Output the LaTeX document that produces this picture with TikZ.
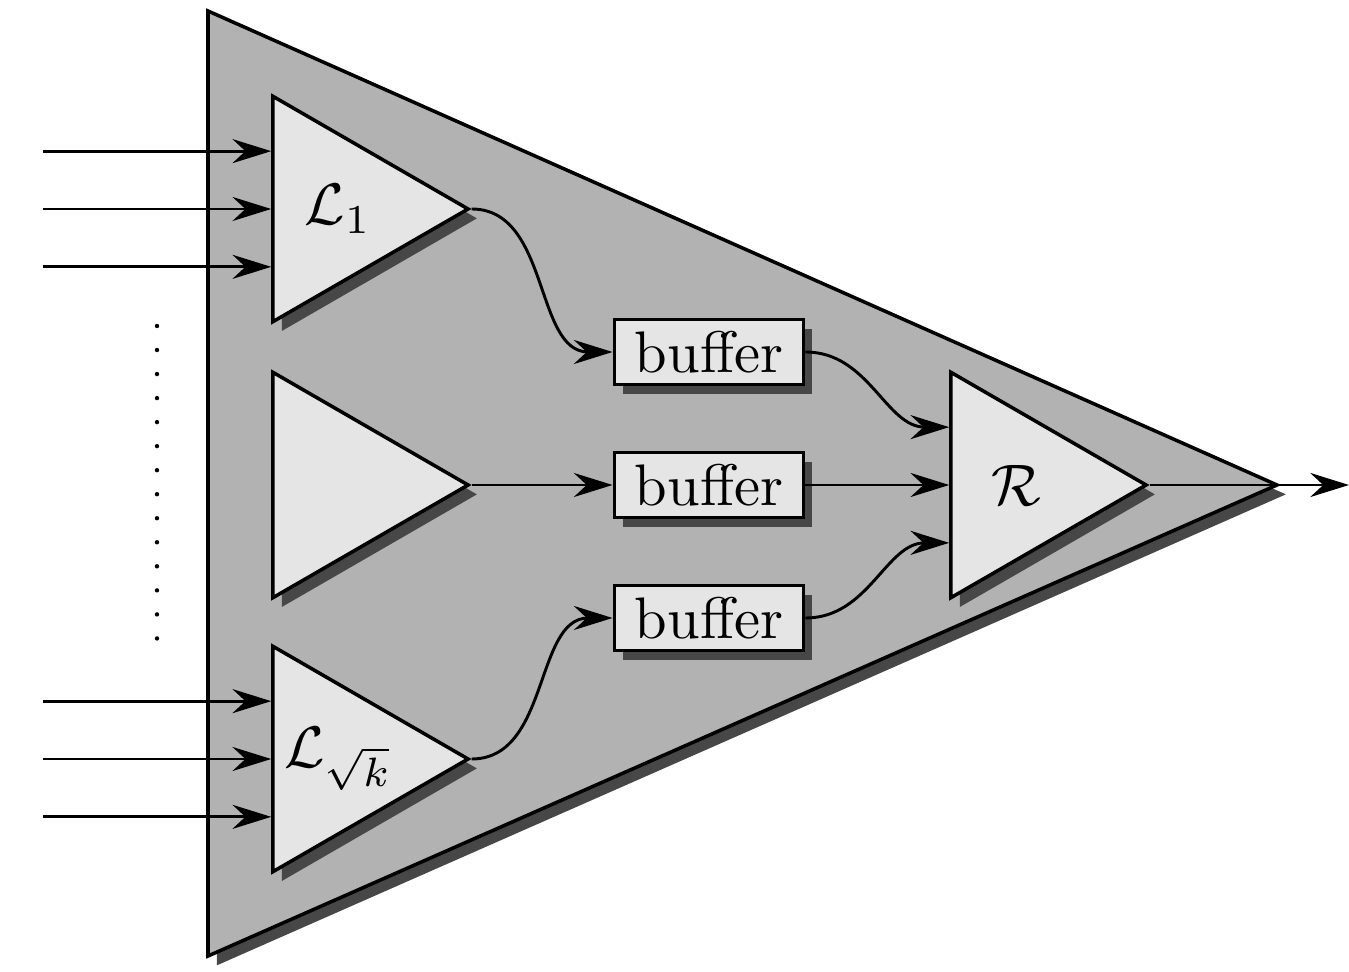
\documentclass[tikz,border=0pt]{standalone}
\usepackage{amsmath}
\usepackage{amssymb}
\usepackage{xcolor}
\usepackage{tikz}
\usetikzlibrary{arrows.meta,shapes.geometric,shadows,calc}

\begin{document}
\begin{tikzpicture}[x=0.006cm,y=-0.006cm,>={Stealth[length=6.6pt,width=4.1pt,inset=2.2pt]},line width=0.5pt]
    \tikzstyle{shade}=[drop shadow={opacity=1,fill=black!72,shadow xshift=1.5pt,shadow yshift=-1.6pt}]
    \tikzstyle{amp}=[regular polygon,regular polygon sides=3,shape border rotate=-90,minimum size=1.56cm,inner sep=0pt,draw,fill=black!10,line width=0.6pt,shade]
    \tikzstyle{buf}=[rectangle,draw,fill=black!10,line width=0.65pt,minimum width=1.134cm,minimum height=0.39cm,inner sep=0pt,shade]
    \tikzstyle{wire}=[->]
    \tikzstyle{dotrow}=[line width=0.75pt,line cap=round,dash pattern=on 0pt off 4.1pt]

    \useasboundingbox (0,0) rectangle (1349,972);

    % outer triangle
    \coordinate (top) at (208,11);
    \coordinate (bot) at (208,956);
    \coordinate (tip) at (1277,485);
    \draw[line width=0.6pt,fill=black!30,shade] (top) -- (bot) -- (tip) -- cycle;

    \node[amp] (L1) at (338,209) {$\mathcal{L}_1$};
    \node[amp] (M)  at (338,485) {};
    \node[amp] (Lk) at (338,759) {\makebox[0pt]{$\mathcal{L}_{\sqrt{k}}$}};
    \node[amp] (R)  at (1016,485) {$\mathcal{R}$};

    \node[buf] (B1) at (709,352) {buffer};
    \node[buf] (B2) at (709,485) {buffer};
    \node[buf] (B3) at (709,618) {buffer};

    % inputs
    \coordinate (in) at (43,0);
    \foreach \n in {L1,Lk}
        \foreach \t in {0.25,0.5,0.75} {
            \coordinate (p) at ($(\n.corner 2)!\t!(\n.corner 3)$);
            \draw[wire] (in |- p) -- (p);
        }
    \draw[dotrow] (157,326) -- (157,640);

    \draw[wire] (L1.corner 1) to[out=0,in=180] (B1.west);
    \draw[wire] (M.corner 1) -- (B2.west);
    \draw[wire] (Lk.corner 1) to[out=0,in=180] (B3.west);

    \draw[wire] (B1.east) to[out=0,in=180] ($(R.corner 2)!0.25!(R.corner 3)$);
    \draw[wire] (B2.east) -- ($(R.corner 2)!0.5!(R.corner 3)$);
    \draw[wire] (B3.east) to[out=0,in=180] ($(R.corner 2)!0.75!(R.corner 3)$);

    \coordinate (out) at (1349,485);
    \draw[wire] (R.corner 1) -- (out);
\end{tikzpicture}
\end{document}
